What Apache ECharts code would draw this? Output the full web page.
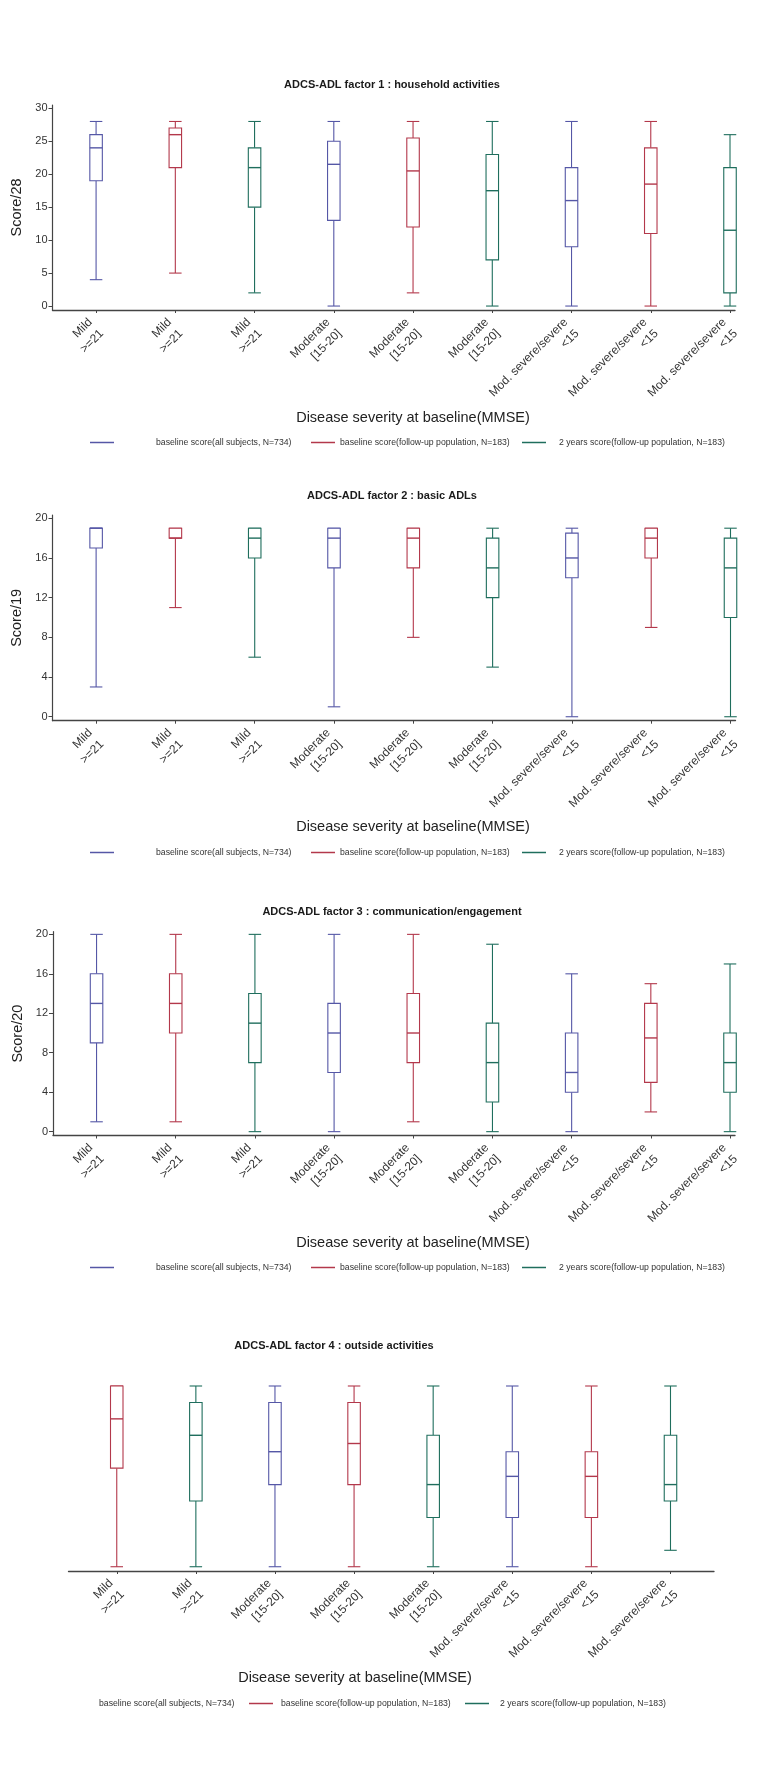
<!DOCTYPE html>
<html>
<head>
<meta charset="utf-8">
<script src="https://cdn.jsdelivr.net/npm/echarts@6/dist/echarts.min.js"></script>
<style>
html,body{margin:0;padding:0;background:#fff;}
#chart{width:780px;height:1783px;}
</style>
</head>
<body>
<div id="chart"></div>
<script>
// ---------- data ----------
const seriesNames = [
  'baseline score(all subjects, N=734)',
  'baseline score(follow-up population, N=183)',
  '2 years score(follow-up population, N=183)'
];
const seriesColors = ['#5557a6', '#b3384b', '#1f6e5d'];

const categories = [
  'Mild\n>=21', 'Mild\n>=21', 'Mild\n>=21',
  'Moderate\n[15-20]', 'Moderate\n[15-20]', 'Moderate\n[15-20]',
  'Mod. severe/severe\n<15', 'Mod. severe/severe\n<15', 'Mod. severe/severe\n<15'
];
const categories4 = [
  'Mild\n>=21', 'Mild\n>=21',
  'Moderate\n[15-20]', 'Moderate\n[15-20]', 'Moderate\n[15-20]',
  'Mod. severe/severe\n<15', 'Mod. severe/severe\n<15', 'Mod. severe/severe\n<15'
];
// which legend series each box belongs to
const groups = [0, 1, 2, 0, 1, 2, 0, 1, 2];
const groups4 = [1, 2, 0, 1, 2, 0, 1, 2];

// [min, Q1, median, Q3, max]
const factor1 = [[4,19,24,26,28],[5,21,26,27,28],[2,15,21,24,28],[0,13,21.5,25,28],[2,12,20.5,25.5,28],[0,7,17.5,23,28],[0,9,16,21,28],[0,11,18.5,24,28],[0,2,11.5,21,26]];
const factor2 = [[3,17,19,19,19],[11,18,18,19,19],[6,16,18,19,19],[1,15,18,19,19],[8,15,18,19,19],[5,12,15,18,19],[0,14,16,18.5,19],[9,16,18,19,19],[0,10,15,18,19]];
const factor3 = [[1,9,13,16,20],[1,10,13,16,20],[0,7,11,14,20],[0,6,10,13,20],[1,7,10,14,20],[0,3,7,11,19],[0,4,6,10,16],[2,5,9.5,13,15],[0,4,7,10,17]];
const factor4 = [[0,6,9,11,11],[0,4,8,10,11],[0,5,7,10,11],[0,5,7.5,10,11],[0,3,5,8,11],[0,3,5.5,7,11],[0,3,5.5,7,11],[1,4,5,8,11]];

const titles = [
  'ADCS-ADL factor 1 : household activities',
  'ADCS-ADL factor 2 : basic ADLs',
  'ADCS-ADL factor 3 : communication/engagement',
  'ADCS-ADL factor 4 : outside activities'
];
const yNames = ['Score/28', 'Score/19', 'Score/20'];
const yTicks1 = [0, 5, 10, 15, 20, 25, 30];
const yTicks23 = [0, 4, 8, 12, 16, 20];
const xTitle = 'Disease severity at baseline(MMSE)';

// ---------- layout ----------
const FONT = '"Liberation Sans", Arial, Helvetica, sans-serif';
const panels = [
  {grid:{left:52.5, top:105, width:682.5, height:205}, xmin:-0.55, xmax:8.063, ymin:-0.6, ymax:30.5, yTicks:yTicks1, cats:categories, groups:groups, stats:factor1, yName:yNames[0], titleX:392, titleTop:79, legendTop:438, nameGap:100},
  {grid:{left:52.5, top:515, width:683, height:205.7}, xmin:-0.55, xmax:8.063, ymin:-0.4, ymax:20.33, yTicks:yTicks23, cats:categories, groups:groups, stats:factor2, yName:yNames[1], titleX:392, titleTop:490.5, legendTop:848, nameGap:99},
  {grid:{left:53, top:931.7, width:682, height:203.8}, xmin:-0.55, xmax:8.063, ymin:-0.39, ymax:20.27, yTicks:yTicks23, cats:categories, groups:groups, stats:factor3, yName:yNames[2], titleX:392, titleTop:906.5, legendTop:1263, nameGap:100},
  {grid:{left:68.5, top:1380, width:645.5, height:191}, xmin:-0.61, xmax:7.55, ymin:-0.26, ymax:11.365, yTicks:null, cats:categories4, groups:groups4, stats:factor4, yName:'', titleX:334, titleTop:1340.5, legendTop:1699, nameGap:99}
];

function renderBox(params, api) {
  const x = api.value(0);
  const lo = api.coord([x, api.value(1)]);
  const q1 = api.coord([x, api.value(2)]);
  const md = api.coord([x, api.value(3)]);
  const q3 = api.coord([x, api.value(4)]);
  const hi = api.coord([x, api.value(5)]);
  const cx = lo[0];
  const hw = 6.25;
  const color = api.visual('color');
  const st = {stroke: color, lineWidth: 1.1, fill: null};
  return {
    type: 'group',
    children: [
      {type:'line', shape:{x1:cx, y1:lo[1], x2:cx, y2:q1[1]}, style:st},
      {type:'line', shape:{x1:cx, y1:q3[1], x2:cx, y2:hi[1]}, style:st},
      {type:'line', shape:{x1:cx-hw, y1:lo[1], x2:cx+hw, y2:lo[1]}, style:st},
      {type:'line', shape:{x1:cx-hw, y1:hi[1], x2:cx+hw, y2:hi[1]}, style:st},
      {type:'rect', shape:{x:cx-hw, y:q3[1], width:2*hw, height:q1[1]-q3[1]}, style:{stroke:color, lineWidth:1.1, fill:'#fff'}},
      {type:'line', shape:{x1:cx-hw, y1:md[1], x2:cx+hw, y2:md[1]}, style:{stroke:color, lineWidth:1.4}}
    ]
  };
}

const option = {
  backgroundColor: '#fff',
  animation: false,
  textStyle: {fontFamily: FONT},
  title: [], grid: [], xAxis: [], yAxis: [], series: [], legend: []
};

panels.forEach((p, pi) => {
  option.title.push({
    text: titles[pi], left: p.titleX, top: p.titleTop, textAlign: 'center', padding: 0,
    textStyle: {fontSize: 11, fontWeight: 'bold', color: '#1a1a1a', fontFamily: FONT}
  });
  option.grid.push(Object.assign({containLabel: false}, p.grid));
  const idx = p.cats.map((_, i) => i);
  const axisMid = p.grid.left + p.grid.width / 2;
  const targetMid = pi < 3 ? 413 : 355;
  const shift = targetMid - axisMid;
  option.xAxis.push({
    type: 'value', gridIndex: pi, min: p.xmin, max: p.xmax,
    splitLine: {show: false},
    axisLine: {show: true, onZero: false, lineStyle: {color: '#444', width: 1.3}},
    axisTick: {show: true, customValues: idx, length: 3, lineStyle: {color: '#444', width: 1}},
    axisLabel: {
      customValues: idx, rotate: 45, margin: 16, fontSize: 12, lineHeight: 16, color: '#333', fontFamily: FONT,
      formatter: (v) => p.cats[Math.round(v)]
    },
    name: xTitle, nameLocation: 'middle', nameGap: p.nameGap, nameMoveOverlap: false,
    nameTextStyle: {fontSize: 14.5, color: '#222', fontFamily: FONT,
      padding: shift > 0 ? [0, 0, 0, 2 * shift] : [0, -2 * shift, 0, 0]}
  });
  if (p.yTicks) {
    option.yAxis.push({
      type: 'value', gridIndex: pi, min: p.ymin, max: p.ymax,
      splitLine: {show: false},
      axisLine: {show: true, onZero: false, lineStyle: {color: '#444', width: 1.2}},
      axisTick: {show: true, customValues: p.yTicks, length: 4, lineStyle: {color: '#444'}},
      axisLabel: {customValues: p.yTicks, margin: 5, fontSize: 11, color: '#333', fontFamily: FONT},
      name: p.yName, nameLocation: 'middle', nameGap: 28, nameMoveOverlap: false,
      nameTextStyle: {fontSize: 14.5, color: '#222', fontFamily: FONT}
    });
  } else {
    option.yAxis.push({
      type: 'value', gridIndex: pi, min: p.ymin, max: p.ymax, show: false, splitLine: {show: false}
    });
  }
  seriesNames.forEach((name, si) => {
    const data = p.stats.map((v, i) => [i].concat(v)).filter((d, i) => p.groups[i] === si);
    option.series.push({
      type: 'custom', name: name, xAxisIndex: pi, yAxisIndex: pi,
      itemStyle: {color: seriesColors[si]},
      renderItem: renderBox,
      encode: {x: 0, y: [1, 2, 3, 4, 5]},
      data: data,
      silent: true
    });
  });
  // legends (one component per item so each can be positioned like the reference)
  const specs = pi < 3
    ? [{left: 90, pad: 37, icon: 'rect'}, {left: 311, pad: 0, icon: 'rect'}, {left: 522, pad: 8, icon: 'rect'}]
    : [{left: 70, pad: 0, icon: 'none'}, {left: 249, pad: 3, icon: 'rect'}, {left: 465, pad: 6, icon: 'rect'}];
  specs.forEach((s, si) => {
    option.legend.push({
      data: [{name: seriesNames[si], icon: s.icon}],
      left: s.left, top: p.legendTop, padding: 0,
      itemWidth: 24, itemHeight: 1.5, selectedMode: false,
      textStyle: {fontSize: 8.7, color: '#333', fontFamily: FONT, padding: [0, 0, 0, s.pad]}
    });
  });
});

const chart = echarts.init(document.getElementById('chart'), null, {renderer: 'canvas'});
chart.setOption(option);
</script>
</body>
</html>
